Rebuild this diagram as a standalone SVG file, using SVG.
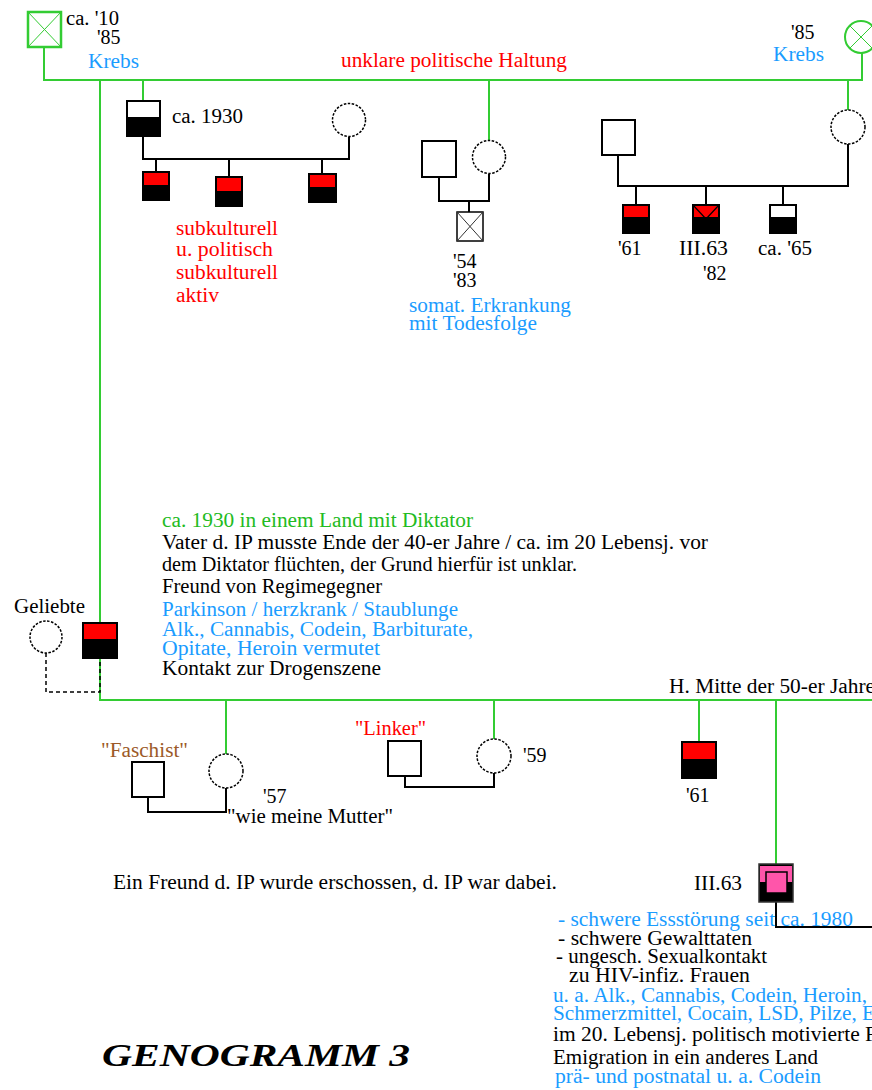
<svg xmlns="http://www.w3.org/2000/svg" width="872" height="1090" viewBox="0 0 872 1090">
<style>
.t{font-family:"Liberation Serif","Times New Roman",serif;font-size:20px;fill:#000}
.bu{fill:#1a9cff}.rd{fill:#ff0000}.gr{fill:#22bb22}.bn{fill:#9c5a28}
.gl{stroke:#33cc33;stroke-width:2;fill:none}
.bl{stroke:#000;stroke-width:2;fill:none}
.dl{stroke:#000;stroke-width:1.5;fill:none;stroke-dasharray:4 3}
.dc{fill:#fff;stroke:#000;stroke-width:1.5;stroke-dasharray:2.5 1.5}
.sq{fill:#fff;stroke:#000;stroke-width:2}
.ol{fill:none;stroke:#000;stroke-width:2}
.blk{fill:#000}.red{fill:#ff0000}.pk{fill:#ff55aa}
.title{font-family:"Liberation Serif","Times New Roman",serif;font-size:31px;font-weight:bold;font-style:italic;fill:#000}
</style>
<rect width="872" height="1090" fill="#fff"/>
<g id="connectors">
<path class="gl" d="M44 47V80H862V53"/>
<path class="gl" d="M100 80V700H872"/>
<path class="gl" d="M143 80V101M489 80V140M848 80V110"/>
<path class="gl" d="M226 700V754M494 700V739M699 700V742M776 700V864"/>
<path class="bl" d="M143 136V159H349V137M156 159V172M229 159V177M322 159V174"/>
<path class="bl" d="M439 177V201H489V174M469 201V212"/>
<path class="bl" d="M618 155V186H848V144M636 186V205M706 186V205M783 186V205"/>
<path class="bl" d="M148 797V812H226V788"/>
<path class="bl" d="M405 776V787H494V773"/>
<path class="bl" d="M776 902V927H872"/>
<path class="dl" d="M46 653V692H100V658"/>
</g>
<g id="grandfather-left">
<rect x="28" y="12" width="33" height="35" fill="#fff" stroke="#33cc33" stroke-width="2.5"/>
<path d="M28 12L61 47M61 12L28 47" stroke="#33cc33" stroke-width="1"/>
<text class="t" x="66" y="25" textLength="53" lengthAdjust="spacingAndGlyphs">ca. '10</text>
<text class="t" x="97" y="44">'85</text>
<text class="t bu" x="88" y="68" textLength="51" lengthAdjust="spacingAndGlyphs">Krebs</text>
</g>
<g id="grandmother-right">
<circle cx="861" cy="37" r="16" fill="#fff" stroke="#33cc33" stroke-width="2"/>
<path d="M849.7 25.7L872.3 48.3M872.3 25.7L849.7 48.3" stroke="#33cc33" stroke-width="1"/>
<text class="t" x="791" y="39">'85</text>
<text class="t bu" x="773" y="61" textLength="51" lengthAdjust="spacingAndGlyphs">Krebs</text>
</g>
<g id="label-haltung">
<text class="t rd" x="341" y="67" textLength="226" lengthAdjust="spacingAndGlyphs">unklare politische Haltung</text>
</g>
<g id="uncle1">
<rect x="127" y="117" width="33" height="19" class="blk"/>
<rect x="127" y="101" width="33" height="35" class="ol"/>
<text class="t" x="172" y="123" textLength="71" lengthAdjust="spacingAndGlyphs">ca. 1930</text>
</g>
<g id="uncle1-wife"><circle cx="349" cy="120" r="16.5" class="dc"/></g>
<g id="cousin1"><rect x="143" y="172" width="26" height="28" class="blk"/><rect x="143" y="172" width="26" height="13" class="red"/><rect x="143" y="172" width="26" height="28" class="ol"/></g>
<g id="cousin2"><rect x="216" y="177" width="26" height="29" class="blk"/><rect x="216" y="177" width="26" height="14" class="red"/><rect x="216" y="177" width="26" height="29" class="ol"/></g>
<g id="cousin3"><rect x="309" y="174" width="27" height="28" class="blk"/><rect x="309" y="174" width="27" height="13" class="red"/><rect x="309" y="174" width="27" height="28" class="ol"/></g>
<g id="cousins-note">
<text class="t rd" x="176" y="235" textLength="102" lengthAdjust="spacingAndGlyphs">subkulturell</text>
<text class="t rd" x="176" y="256" textLength="97" lengthAdjust="spacingAndGlyphs">u. politisch</text>
<text class="t rd" x="176" y="279" textLength="102" lengthAdjust="spacingAndGlyphs">subkulturell</text>
<text class="t rd" x="176" y="302" textLength="43" lengthAdjust="spacingAndGlyphs">aktiv</text>
</g>
<g id="aunt1-husband"><rect x="422" y="141" width="34" height="36" class="sq"/></g>
<g id="aunt1"><circle cx="489" cy="157" r="16.5" class="dc"/></g>
<g id="cousin4">
<rect x="457" y="212" width="26" height="29" fill="#fff" stroke="#000" stroke-width="1.5"/>
<path d="M457 212L483 241M483 212L457 241" stroke="#333" stroke-width="1"/>
<text class="t" x="453" y="268">'54</text>
<text class="t" x="453" y="287">'83</text>
<text class="t bu" x="409" y="312" textLength="162" lengthAdjust="spacingAndGlyphs">somat. Erkrankung</text>
<text class="t bu" x="409" y="330" textLength="128" lengthAdjust="spacingAndGlyphs">mit Todesfolge</text>
</g>
<g id="aunt2-husband"><rect x="602" y="120" width="33" height="35" class="sq"/></g>
<g id="aunt2"><circle cx="848" cy="127" r="17" class="dc"/></g>
<g id="cousin5"><rect x="623" y="205" width="26" height="28" class="blk"/><rect x="623" y="205" width="26" height="12" class="red"/><rect x="623" y="205" width="26" height="28" class="ol"/>
<text class="t" x="618" y="255">'61</text></g>
<g id="cousin6"><rect x="693" y="205" width="26" height="28" class="blk"/><rect x="693" y="205" width="26" height="12" class="red"/><path d="M693 205L719 233M719 205L693 233" stroke="#000" stroke-width="1.2"/><rect x="693" y="205" width="26" height="28" class="ol"/>
<text class="t" x="679" y="255" textLength="49" lengthAdjust="spacingAndGlyphs">III.63</text>
<text class="t" x="703" y="280">'82</text></g>
<g id="cousin7"><rect x="770" y="217" width="26" height="16" class="blk"/><rect x="770" y="205" width="26" height="28" class="ol"/>
<text class="t" x="758" y="255" textLength="54" lengthAdjust="spacingAndGlyphs">ca. '65</text></g>
<g id="father-note">
<text class="t gr" x="162" y="527" textLength="311" lengthAdjust="spacingAndGlyphs">ca. 1930 in einem Land mit Diktator</text>
<text class="t" x="162" y="549" textLength="546" lengthAdjust="spacingAndGlyphs">Vater d. IP musste Ende der 40-er Jahre / ca. im 20 Lebensj. vor</text>
<text class="t" x="162" y="571" textLength="415" lengthAdjust="spacingAndGlyphs">dem Diktator flüchten, der Grund hierfür ist unklar.</text>
<text class="t" x="162" y="593" textLength="220" lengthAdjust="spacingAndGlyphs">Freund von Regimegegner</text>
<text class="t bu" x="162" y="616" textLength="296" lengthAdjust="spacingAndGlyphs">Parkinson / herzkrank / Staublunge</text>
<text class="t bu" x="162" y="636" textLength="311" lengthAdjust="spacingAndGlyphs">Alk., Cannabis, Codein, Barbiturate,</text>
<text class="t bu" x="162" y="655" textLength="218" lengthAdjust="spacingAndGlyphs">Opitate, Heroin vermutet</text>
<text class="t" x="162" y="675" textLength="219" lengthAdjust="spacingAndGlyphs">Kontakt zur Drogenszene</text>
</g>
<g id="lover">
<circle cx="46" cy="637" r="16" class="dc"/>
<text class="t" x="14" y="613" textLength="71" lengthAdjust="spacingAndGlyphs">Geliebte</text>
</g>
<g id="father"><rect x="83" y="623" width="34" height="35" class="blk"/><rect x="83" y="623" width="34" height="16" class="red"/><rect x="83" y="623" width="34" height="35" class="ol"/></g>
<g id="faschist"><rect x="132" y="762" width="32" height="35" class="sq"/>
<text class="t bn" x="101" y="757" textLength="87" lengthAdjust="spacingAndGlyphs">"Faschist"</text></g>
<g id="sister1"><circle cx="226" cy="771" r="17" class="dc"/>
<text class="t" x="263" y="803">'57</text>
<text class="t" x="227" y="823" textLength="166" lengthAdjust="spacingAndGlyphs">"wie meine Mutter"</text></g>
<g id="linker"><rect x="388" y="741" width="33" height="35" class="sq"/>
<text class="t rd" x="355" y="735" textLength="71" lengthAdjust="spacingAndGlyphs">"Linker"</text></g>
<g id="sister2"><circle cx="494" cy="756" r="17" class="dc"/>
<text class="t" x="523" y="762">'59</text></g>
<g id="friend-note"><text class="t" x="113" y="889" textLength="444" lengthAdjust="spacingAndGlyphs">Ein Freund d. IP wurde erschossen, d. IP war dabei.</text></g>
<g id="marriage-label"><text class="t" x="669" y="693" textLength="206" lengthAdjust="spacingAndGlyphs">H. Mitte der 50-er Jahre</text></g>
<g id="brother"><rect x="682" y="742" width="34" height="36" class="blk"/><rect x="682" y="742" width="34" height="17" class="red"/><rect x="682" y="742" width="34" height="36" class="ol"/>
<text class="t" x="686" y="802">'61</text></g>
<g id="ip">
<rect x="759" y="864" width="34" height="38" fill="#000" stroke="#333" stroke-width="1.5"/>
<rect x="760" y="866" width="32" height="16" class="pk"/>
<rect x="766" y="872" width="21" height="21" class="pk" stroke="#000" stroke-width="1.5"/>
<text class="t" x="694" y="890" textLength="48" lengthAdjust="spacingAndGlyphs">III.63</text>
</g>
<g id="ip-note">
<text class="t bu" x="558" y="926" textLength="295" lengthAdjust="spacingAndGlyphs">- schwere Essstörung seit ca. 1980</text>
<text class="t" x="558" y="945" textLength="194" lengthAdjust="spacingAndGlyphs">- schwere Gewalttaten</text>
<text class="t" x="556" y="963" textLength="211" lengthAdjust="spacingAndGlyphs">- ungesch. Sexualkontakt</text>
<text class="t" x="569" y="982" textLength="181" lengthAdjust="spacingAndGlyphs">zu HIV-infiz. Frauen</text>
<text class="t bu" x="553" y="1002" textLength="314" lengthAdjust="spacingAndGlyphs">u. a. Alk., Cannabis, Codein, Heroin,</text>
<text class="t bu" x="553" y="1020" textLength="322" lengthAdjust="spacingAndGlyphs">Schmerzmittel, Cocain, LSD, Pilze, E</text>
<text class="t" x="553" y="1041" textLength="324" lengthAdjust="spacingAndGlyphs">im 20. Lebensj. politisch motivierte F</text>
<text class="t" x="553" y="1064" textLength="265" lengthAdjust="spacingAndGlyphs">Emigration in ein anderes Land</text>
<text class="t bu" x="555" y="1083" textLength="266" lengthAdjust="spacingAndGlyphs">prä- und postnatal u. a. Codein</text>
</g>
<g id="title"><text class="title" x="102" y="1066" textLength="308" lengthAdjust="spacingAndGlyphs">GENOGRAMM 3</text></g>
</svg>
